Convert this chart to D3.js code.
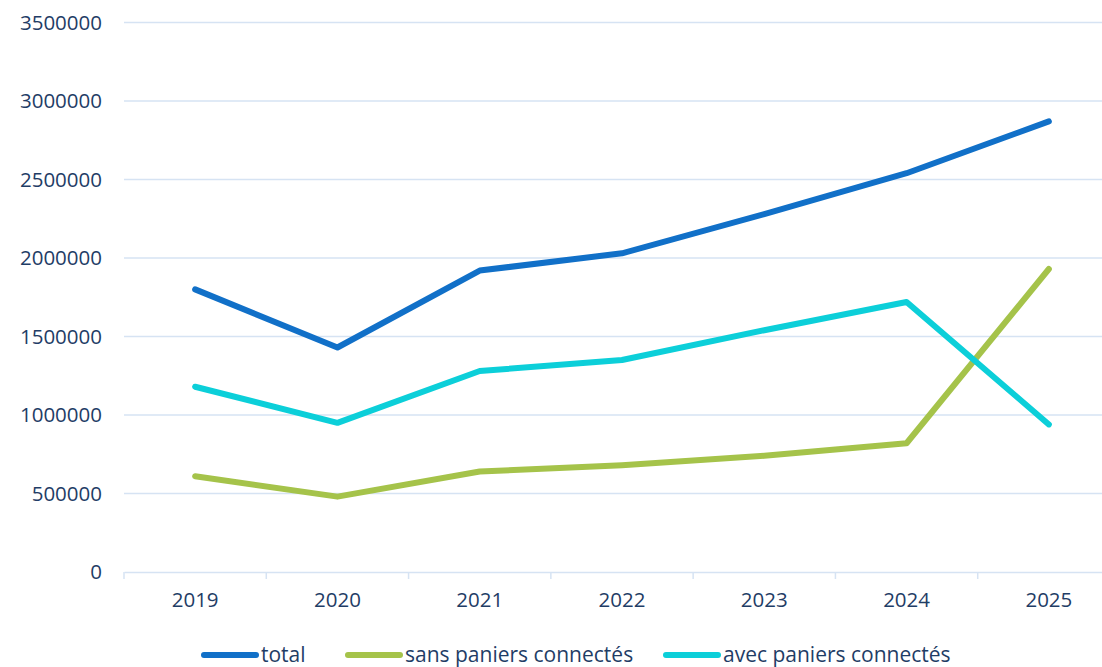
<!DOCTYPE html>
<html>
<head>
<meta charset="utf-8">
<title></title>
<style>
body { margin: 0; background: #fff; overflow: hidden; }
text { font-family: "Open Sans", sans-serif; fill: #1f3d66; }
</style>
</head>
<body>
<script src="https://cdnjs.cloudflare.com/ajax/libs/d3/7.8.5/d3.min.js"></script>
<script>

var years = ["2019", "2020", "2021", "2022", "2023", "2024", "2025"];
var total = [1800000, 1430000, 1920000, 2030000, 2280000, 2540000, 2870000];
var sansPaniers = [610000, 480000, 640000, 680000, 740000, 820000, 1930000];
var avecPaniers = [1180000, 950000, 1280000, 1350000, 1540000, 1720000, 940000];
var yTicks = [0, 500000, 1000000, 1500000, 2000000, 2500000, 3000000, 3500000];

var series = [
  {name: "total", values: total, color: "#1170c8"},
  {name: "sans paniers connectés", values: sansPaniers, color: "#a5c34a"},
  {name: "avec paniers connectés", values: avecPaniers, color: "#0ccfd9"}
];

var width = 1102,
    height = 667;

var svg = d3.select("body").append("svg")
    .attr("width", width)
    .attr("height", height)
    .style("display", "block");

// plot area runs past the right edge (the source picture is cropped)
var x = d3.scaleBand()
    .domain(years)
    .range([124, 1120]);

var y = d3.scaleLinear()
    .domain([0, 3500000])
    .range([572, 22.5]);

// gridlines
svg.append("g")
    .selectAll("line")
    .data(yTicks.slice(1))
    .enter().append("line")
    .attr("x1", 124)
    .attr("x2", width)
    .attr("y1", function(d) { return y(d); })
    .attr("y2", function(d) { return y(d); })
    .attr("stroke", "#d6e3f3")
    .attr("stroke-width", 1.5);

// y labels
svg.append("g")
    .selectAll("text")
    .data(yTicks)
    .enter().append("text")
    .attr("x", 102)
    .attr("y", function(d) { return y(d) + 7; })
    .attr("text-anchor", "end")
    .style("font-size", "20.5px")
    .text(function(d) { return d; });

// x axis
var xAxis = svg.append("g")
    .attr("transform", "translate(0,572)")
    .call(d3.axisBottom(x).tickSize(0).tickPadding(20));
xAxis.select(".domain").attr("stroke", "#d6e3f3").attr("stroke-width", 1.5);
xAxis.selectAll("text")
    .style("font-size", "20.5px")
    .style("font-family", "Open Sans, sans-serif")
    .attr("fill", "#1f3d66");

// category separators
var bounds = years.map(function(d) { return x(d); }).concat([x.range()[1]]);
svg.append("g")
    .selectAll("line")
    .data(bounds)
    .enter().append("line")
    .attr("x1", function(d) { return d; })
    .attr("x2", function(d) { return d; })
    .attr("y1", 572)
    .attr("y2", 579)
    .attr("stroke", "#d6e3f3")
    .attr("stroke-width", 1.5);

var line = d3.line()
    .x(function(d, i) { return x(years[i]) + x.bandwidth() / 2; })
    .y(function(d) { return y(d); });

svg.append("g")
    .selectAll("path")
    .data(series)
    .enter().append("path")
    .attr("d", function(d) { return line(d.values); })
    .attr("fill", "none")
    .attr("stroke", function(d) { return d.color; })
    .attr("stroke-width", 6)
    .attr("stroke-linecap", "round")
    .attr("stroke-linejoin", "round");

// legend
var legendX = [204, 348, 666];
var legend = svg.append("g")
    .selectAll("g")
    .data(series)
    .enter().append("g")
    .attr("transform", function(d, i) { return "translate(" + legendX[i] + ",655)"; });

legend.append("line")
    .attr("x1", 0)
    .attr("x2", 52)
    .attr("stroke", function(d) { return d.color; })
    .attr("stroke-width", 6)
    .attr("stroke-linecap", "round");

legend.append("text")
    .attr("x", 57)
    .attr("y", 7)
    .style("font-size", "21px")
    .text(function(d) { return d.name; });

</script>
</body>
</html>
